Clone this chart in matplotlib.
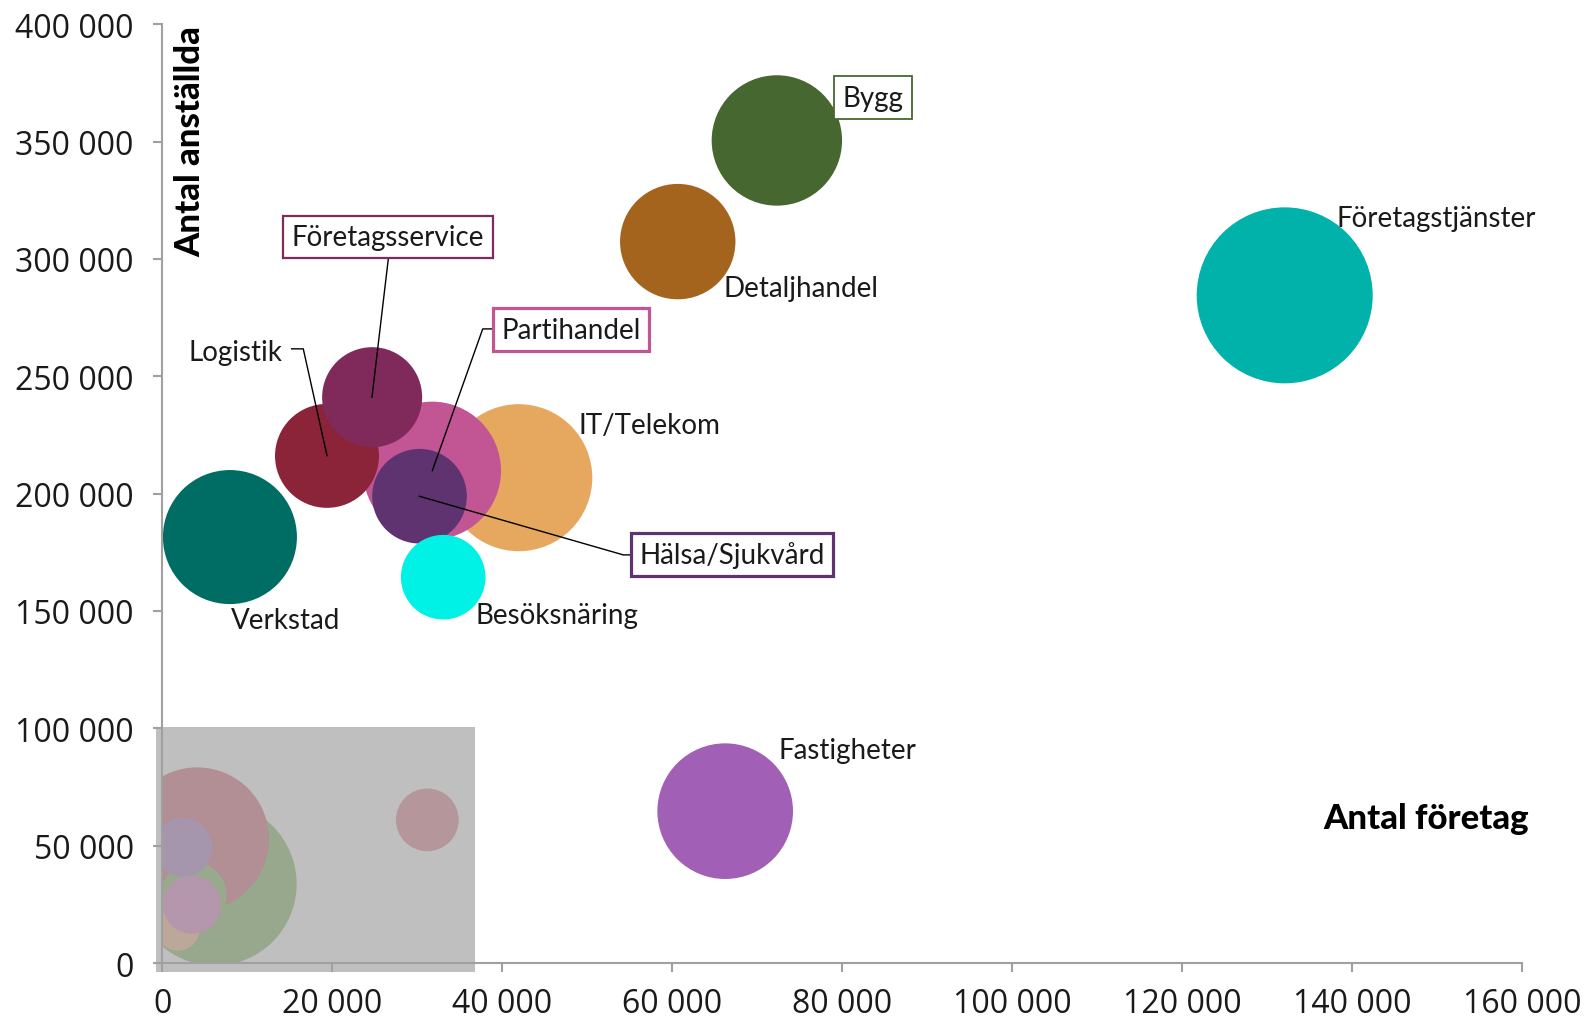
import numpy as np
import matplotlib.pyplot as plt
from matplotlib.patches import Rectangle

### branscher: antal företag, antal anställda, bubbelstorlek
branscher = ['IT/Telekom', 'Partihandel', 'Logistik', 'Företagsservice', 'Hälsa/Sjukvård',
             'Besöksnäring', 'Verkstad', 'Bygg', 'Detaljhandel', 'Företagstjänster', 'Fastigheter']
foretag = [41940, 31730, 19380, 24690, 30260, 33050, 7960, 72300, 60640, 132040, 66220]
anstallda = [206800, 209800, 216100, 241100, 198900, 164400, 181500, 350500, 307400, 284500, 64700]
storlek = [69.8, 61.5, 34.9, 32.3, 28.9, 23.1, 58.0, 54.9, 43.0, 100.0, 59.4]
farger = ['#E6A85F', '#C25594', '#8B2439', '#7F2A5A', '#5F3370', '#00F2E6',
          '#006D64', '#466830', '#A5641E', '#00B2A9', '#A160B5']

### små branscher, nedtonade i den grå rutan
sma_foretag = [6200, 4120, 3690, 1850, 3500, 2440, 31180]
sma_anstallda = [33700, 52800, 29000, 14500, 24800, 49300, 61000]
sma_storlek = [86.2, 66.4, 14.1, 6.1, 10.9, 11.1, 12.7]
sma_farger = ['#97A88C', '#B28E95', '#98A98D', '#BCA898', '#B497AD', '#A596AE', '#B5969B']

xticks = np.arange(0, 160001, 20000)
yticks = np.arange(0, 400001, 50000)

dpi = 100
rmax = 88.  # pixels, radius of the largest bubble

def bubble_s(v):
    r = rmax * np.sqrt(np.array(v) / 100.)
    return (2 * r * 72. / dpi)**2

plt.rcParams['font.family'] = ['Lato', 'DejaVu Sans']

fig = plt.figure(figsize=(15.86, 10.20), dpi=dpi)
ax = fig.add_axes([0.1023, 0.0549, 0.8576, 0.9203])

### grå ruta
ax.add_patch(Rectangle((-700, -3700), 37500, 104200, facecolor='#BFBFBF',
                       edgecolor='none', clip_on=False, zorder=1))
ax.scatter(sma_foretag, sma_anstallda, s=bubble_s(sma_storlek), c=sma_farger,
           edgecolors='none', zorder=2)
ax.scatter(foretag, anstallda, s=bubble_s(storlek), c=farger,
           edgecolors='none', zorder=2)

txt = dict(fontsize=20, color='#1a1a1a', zorder=5)

### etiketter utan ram
ax.text(75140, 287700, 'Detaljhandel', ha='center', va='center', **txt)
ax.text(149850, 317300, 'Företagstjänster', ha='center', va='center', **txt)
ax.text(8640, 260400, 'Logistik', ha='center', va='center', **txt)
ax.text(57300, 229400, 'IT/Telekom', ha='center', va='center', **txt)
ax.text(14460, 146200, 'Verkstad', ha='center', va='center', **txt)
ax.text(46470, 148300, 'Besöksnäring', ha='center', va='center', **txt)
ax.text(80630, 90570, 'Fastigheter', ha='center', va='center', **txt)

### etiketter med ram
def boxed(x, y, s, col, lw):
    ax.text(x, y, s, ha='center', va='center',
            bbox=dict(boxstyle='square,pad=0.3', fc='white', ec=col, lw=lw), **txt)

boxed(83600, 368700, 'Bygg', '#466830', 1.3)
boxed(26550, 309400, 'Företagsservice', '#7F2A5A', 1.6)
boxed(48080, 269900, 'Partihandel', '#C25594', 2.3)
boxed(67000, 174000, 'Hälsa/Sjukvård', '#5F3370', 2.3)

### hänvisningslinjer
lk = dict(color='black', lw=1.0, zorder=4)
ax.plot([15220, 16590, 19380], [261700, 261700, 216200], **lk)
ax.plot([26640, 24670], [301500, 241100], **lk)
ax.plot([38940, 37700, 31770], [270200, 270200, 209800], **lk)
ax.plot([30240, 54240, 55280], [198900, 173900, 173900], **lk)

### axeltitlar
ax.text(160800, 61800, 'Antal företag', ha='right', va='center',
        fontsize=25, fontweight='black', color='black', zorder=5)
ax.text(3300, 399500, 'Antal anställda', ha='center', va='top', rotation=90,
        fontsize=25, fontweight='black', color='black', zorder=5)

### rest of plotting
ax.set_xlim(0, 160000)
ax.set_ylim(0, 400000)
ax.set_xticks(xticks)
ax.set_yticks(yticks)
fmt = lambda v: '{:,}'.format(int(v)).replace(',', ' ')
ax.set_xticklabels([fmt(v) for v in xticks], family='Open Sans')
ax.set_yticklabels([fmt(v) for v in yticks], family='Open Sans')
for s in ['top', 'right']:
    ax.spines[s].set_visible(False)
for s in ['left', 'bottom']:
    ax.spines[s].set_color('#A0A0A0')
    ax.spines[s].set_linewidth(1.5)
    ax.spines[s].set_zorder(3)
ax.tick_params(axis='both', colors='#A0A0A0', width=1.5, length=6.5,
               labelsize=23, labelcolor='#1a1a1a')
ax.tick_params(axis='y', pad=14)
ax.tick_params(axis='x', pad=11)
ax.set_facecolor('none')

fig.savefig('out.png', dpi=dpi)
